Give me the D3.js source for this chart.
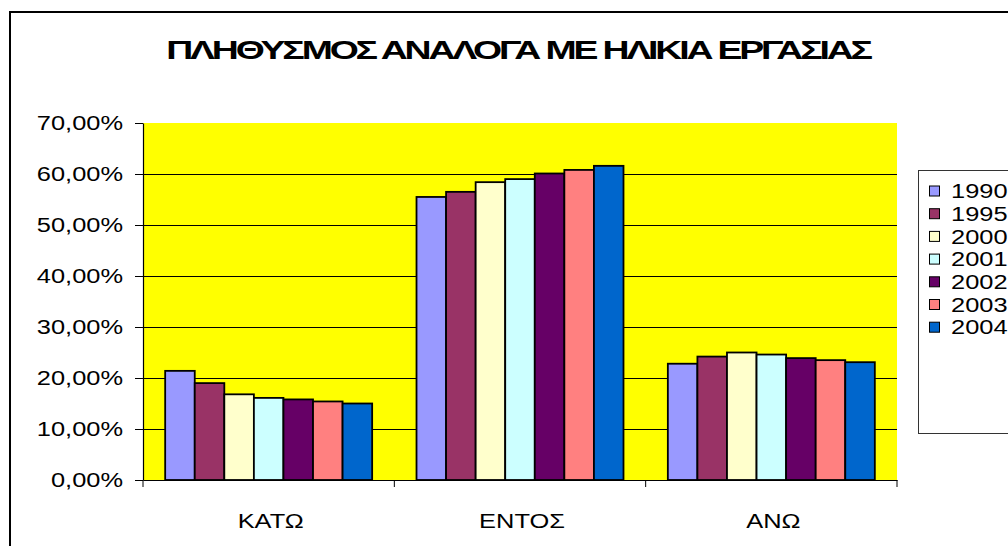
<!DOCTYPE html>
<html><head><meta charset="utf-8">
<script src="https://cdn.jsdelivr.net/npm/d3@7"></script>
<style>
html,body{margin:0;padding:0;background:#fff;overflow:hidden;}
svg{display:block;font-family:"Liberation Sans",Arial,sans-serif;}
</style></head>
<body>
<svg id="chart" width="1008" height="546"></svg>
<script>
const title = "ΠΛΗΘΥΣΜΟΣ ΑΝΑΛΟΓΑ ΜΕ ΗΛΙΚΙΑ ΕΡΓΑΣΙΑΣ";
const categories = ["ΚΑΤΩ", "ΕΝΤΟΣ", "ΑΝΩ"];
const years = ["1990", "1995", "2000", "2001", "2002", "2003", "2004"];
const v1990 = [0.214, 0.555, 0.228];
const v1995 = [0.190, 0.565, 0.242];
const v2000 = [0.168, 0.584, 0.250];
const v2001 = [0.161, 0.590, 0.246];
const v2002 = [0.158, 0.601, 0.239];
const v2003 = [0.154, 0.608, 0.235];
const v2004 = [0.150, 0.616, 0.231];
const seriesValues = [v1990, v1995, v2000, v2001, v2002, v2003, v2004];
const colors = ["#9999FF", "#993366", "#FFFFCC", "#CCFFFF", "#660066", "#FF8080", "#0066CC"];
const yTicks = [0, 0.1, 0.2, 0.3, 0.4, 0.5, 0.6, 0.7];

const svg = d3.select("#chart");
const STRETCH = 1.24;
const plot = {left: 143, right: 897, top: 123, bottom: 480};

// chart frame
svg.append("rect").attr("x", 10).attr("y", 12).attr("width", 1020).attr("height", 560)
  .attr("fill", "#fff").attr("stroke", "#000").attr("stroke-width", 2);

// title
const tt = svg.append("text").attr("font-weight", "bold").attr("font-size", 26)
  .attr("letter-spacing", -2.2)
  .attr("text-anchor", "middle").attr("fill", "#000").text(title);
const tw = tt.node().getComputedTextLength();
tt.attr("transform", `translate(518,59) scale(${704 / tw},1)`);

const x0 = d3.scaleBand().domain(categories).range([plot.left, plot.right]).paddingInner(0).paddingOuter(0);
const x1 = d3.scaleBand().domain(years).range([0, x0.bandwidth()]).paddingInner(0).paddingOuter(0.75);
const y = d3.scaleLinear().domain([0, 0.7]).range([plot.bottom, plot.top]);

// plot background
svg.append("rect").attr("x", plot.left).attr("y", plot.top)
  .attr("width", plot.right - plot.left).attr("height", plot.bottom - plot.top).attr("fill", "#FFFF00");

// gridlines
svg.append("g").selectAll("line").data(yTicks.filter(d => d > 0 && d < 0.7)).join("line")
  .attr("x1", plot.left).attr("x2", plot.right)
  .attr("y1", d => Math.round(y(d)) + 0.5).attr("y2", d => Math.round(y(d)) + 0.5)
  .attr("stroke", "#000").attr("stroke-width", 1);

// bars
const rows = [];
seriesValues.forEach((vals, si) => vals.forEach((v, ci) => rows.push({year: years[si], cat: categories[ci], v, si})));
svg.append("g").selectAll("rect").data(rows).join("rect")
  .attr("x", d => x0(d.cat) + x1(d.year))
  .attr("y", d => y(d.v))
  .attr("width", x1.bandwidth())
  .attr("height", d => y(0) - y(d.v))
  .attr("fill", d => colors[d.si])
  .attr("stroke", "#000").attr("stroke-width", 1.8);

// y axis
const loc = d3.formatLocale({decimal: ",", thousands: ".", grouping: [3], currency: ["", "€"]});
const fmt = loc.format(".2%");
const yAxis = svg.append("g").attr("transform", `translate(${plot.left},0)`)
  .call(d3.axisLeft(y).tickValues(yTicks).tickFormat(fmt).tickSize(8).tickSizeOuter(0));
yAxis.select(".domain").attr("stroke", "#000").attr("stroke-width", 1.2);
yAxis.selectAll(".tick line").attr("stroke", "#000");
yAxis.selectAll(".tick text").attr("font-size", 20.5).attr("fill", "#000")
  .attr("font-family", "Liberation Sans, Arial, sans-serif")
  .attr("x", -20 / STRETCH).attr("transform", `scale(${STRETCH},1)`);

// x axis
const xAxis = svg.append("g").attr("transform", `translate(0,${plot.bottom})`)
  .call(d3.axisBottom(x0).tickSize(0).tickSizeOuter(0));
xAxis.select(".domain").attr("stroke", "#000").attr("stroke-width", 1.2);
xAxis.selectAll(".tick text").attr("font-size", 20.5).attr("fill", "#000")
  .attr("font-family", "Liberation Sans, Arial, sans-serif")
  .attr("y", 48).attr("dy", 0).attr("transform", `scale(${STRETCH},1)`)
  .attr("x", 0);
xAxis.selectAll(".tick").each(function(d) {
  d3.select(this).attr("transform", `translate(${x0(d) + x0.bandwidth() / 2 + 2},0)`);
});
// category separator ticks
const sepPos = categories.map(c => x0(c)).concat([x0(categories[categories.length - 1]) + x0.bandwidth()]);
xAxis.append("g").selectAll("line").data(sepPos).join("line")
  .attr("x1", d => d).attr("x2", d => d).attr("y1", 0).attr("y2", 7)
  .attr("stroke", "#000");

// legend
const lg = svg.append("g");
lg.append("rect").attr("x", 918.5).attr("y", 170.5).attr("width", 120).attr("height", 263)
  .attr("fill", "#fff").attr("stroke", "#333").attr("stroke-width", 1);
const items = lg.selectAll("g.item").data(years).join("g").attr("class", "item")
  .attr("transform", (d, i) => `translate(0,${191 + i * 22.7})`);
items.append("rect").attr("x", 929.5).attr("y", -5).attr("width", 10).attr("height", 10)
  .attr("fill", (d, i) => colors[i]).attr("stroke", "#000").attr("stroke-width", 1);
items.append("text").attr("font-size", 20.5).attr("fill", "#000")
  .attr("dy", "0.35em").attr("transform", `translate(951,0) scale(${STRETCH},1)`)
  .text(d => d);
</script>
</body></html>
